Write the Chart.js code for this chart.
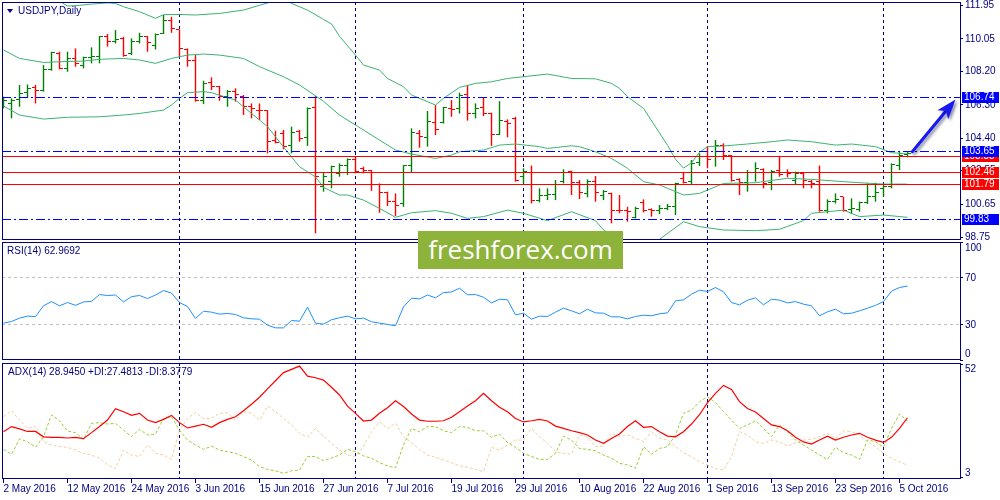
<!DOCTYPE html>
<html>
<head>
<meta charset="utf-8">
<script src="https://cdn.jsdelivr.net/npm/chart.js@4.4.1/dist/chart.umd.min.js"></script>
<style>
body { margin: 0; background: #fff; width: 1000px; height: 500px; overflow: hidden; position: relative; }
canvas { position: absolute; left: 0; }
.lbl { position: absolute; font: 10px "Liberation Sans", Arial, sans-serif; line-height: 12px; color: #000080; white-space: pre; }
.tri { position: absolute; left: 7px; top: 9px; width: 0; height: 0; border-left: 3px solid transparent; border-right: 3px solid transparent; border-top: 4px solid #000080; }
#wm { position: absolute; left: 418px; top: 231px; width: 205px; height: 38px; background: #8db33a; color: #fff; font: 26px "Open Sans", sans-serif; line-height: 37px; text-align: center; }
</style>
</head>
<body>
<canvas id="cMain" width="1000" height="241" style="top:0"></canvas>
<canvas id="cRsi" width="1000" height="130" style="top:236px"></canvas>
<canvas id="cAdx" width="1000" height="143" style="top:357px"></canvas>
<div class="tri"></div>
<div class="lbl" style="left:18px;top:5px">USDJPY,Daily</div>
<div class="lbl" style="left:7px;top:245px">RSI(14) 62.9692</div>
<div class="lbl" style="left:8px;top:366px">ADX(14) 28.9450 +DI:27.4813 -DI:8.3779</div>
<div id="wm">freshforex.com</div>
<script>
// bottom date labels, one every 8 daily bars
const tickDates = ['2 May 2016', '12 May 2016', '24 May 2016', '3 Jun 2016', '15 Jun 2016', '27 Jun 2016', '7 Jul 2016',
  '19 Jul 2016', '29 Jul 2016', '10 Aug 2016', '22 Aug 2016', '1 Sep 2016', '13 Sep 2016', '23 Sep 2016', '5 Oct 2016'];
const tickBars = [0, 8, 16, 24, 32, 40, 48, 56, 64, 72, 80, 88, 96, 104, 112];
const gridBars = [22, 44, 65, 88, 110];

// USDJPY daily bars, 2 May - 6 Oct 2016
const openP = [
  106.23, 106.38, 106.61, 106.99, 107.29, 107.10, 108.32, 109.23, 108.37, 108.94,
  108.56, 108.99, 109.04, 110.17, 109.89, 110.08, 109.23, 109.89, 110.17, 109.70,
  110.36, 111.08, 110.59, 109.45, 108.85, 106.53, 107.56, 107.33, 106.76, 107.05,
  106.76, 106.19, 106.00, 106.00, 104.26, 104.68, 103.96, 104.77, 104.45, 106.15,
  101.64, 101.93, 102.40, 102.87, 103.20, 102.69, 102.55, 101.74, 101.30, 100.79,
  100.66, 102.84, 104.68, 104.45, 105.28, 105.28, 106.10, 106.10, 106.89, 105.81,
  106.15, 105.81, 104.64, 105.34, 105.53, 102.25, 102.44, 100.88, 101.17, 101.21,
  101.93, 102.50, 101.87, 101.23, 101.93, 101.17, 101.26, 100.31, 100.28, 99.88,
  100.73, 100.35, 100.31, 100.41, 100.54, 102.12, 101.93, 103.01, 103.35, 103.35,
  104.01, 103.44, 102.06, 101.87, 102.44, 102.63, 101.87, 102.55, 102.44, 102.02,
  102.40, 101.93, 101.93, 100.31, 100.79, 101.07, 100.35, 100.35, 100.73, 101.07,
  101.55, 101.64, 102.87, 103.50];
const highP = [
  106.76, 106.67, 107.43, 107.46, 107.43, 108.56, 109.32, 109.32, 109.32, 109.51,
  109.04, 109.57, 110.21, 110.33, 110.55, 110.17, 110.08, 110.40, 110.21, 110.36,
  111.41, 111.31, 110.59, 109.51, 109.13, 107.67, 107.86, 107.37, 107.14, 107.24,
  106.86, 106.38, 106.38, 106.00, 104.83, 104.87, 105.06, 104.87, 106.15, 106.80,
  102.46, 102.84, 102.97, 103.25, 103.35, 102.78, 102.59, 101.83, 101.36, 101.26,
  102.87, 104.96, 104.87, 105.95, 106.29, 106.19, 106.57, 106.99, 107.43, 106.38,
  106.72, 105.85, 106.51, 105.47, 105.62, 102.69, 102.84, 101.55, 101.55, 102.02,
  102.63, 102.55, 102.02, 102.06, 102.25, 101.45, 101.30, 101.17, 100.50, 100.50,
  100.92, 100.41, 100.60, 100.66, 101.87, 102.44, 103.16, 103.54, 103.96, 104.30,
  104.11, 103.44, 102.12, 102.59, 103.03, 102.69, 102.59, 103.39, 102.63, 102.50,
  102.44, 102.02, 102.84, 100.92, 101.26, 101.07, 100.98, 100.79, 101.83, 101.87,
  101.74, 102.97, 103.63, 103.63];
const lowP = [
  106.10, 105.53, 106.19, 106.72, 106.38, 107.05, 108.24, 108.32, 108.18, 108.47,
  108.37, 108.66, 108.66, 109.61, 109.79, 109.04, 109.13, 109.79, 109.32, 109.45,
  110.33, 110.40, 109.04, 108.47, 106.48, 106.34, 107.14, 106.53, 106.19, 106.48,
  105.72, 105.53, 105.43, 103.54, 104.11, 103.77, 103.54, 104.20, 103.96, 98.99,
  101.36, 101.55, 102.21, 102.31, 102.40, 102.40, 101.41, 100.16, 100.54, 99.97,
  100.50, 102.46, 103.86, 103.92, 104.58, 105.24, 105.62, 105.81, 105.40, 105.53,
  105.66, 103.96, 104.58, 104.45, 101.93, 101.83, 100.69, 100.75, 100.88, 100.88,
  101.83, 101.17, 100.94, 101.04, 100.79, 100.88, 99.56, 100.13, 99.65, 99.84,
  100.18, 99.94, 100.09, 100.31, 100.03, 101.83, 101.74, 102.82, 102.69, 102.78,
  103.16, 101.93, 101.17, 101.36, 101.93, 101.55, 101.45, 102.21, 102.17, 101.74,
  101.55, 101.55, 100.22, 100.13, 100.69, 100.22, 100.09, 100.22, 100.66, 100.79,
  101.07, 101.55, 102.59, 103.31];
const closeP = [
  106.57, 106.57, 106.95, 107.24, 107.10, 108.32, 109.26, 108.37, 108.94, 108.66,
  108.99, 109.07, 110.17, 109.89, 110.02, 109.13, 109.89, 110.17, 109.83, 110.31,
  111.08, 110.65, 109.51, 108.85, 106.53, 107.52, 107.37, 106.76, 107.05, 106.86,
  106.19, 106.10, 105.97, 104.20, 104.15, 103.92, 104.71, 104.39, 106.10, 102.21,
  102.21, 102.78, 102.84, 103.20, 102.50, 102.55, 101.79, 101.30, 100.79, 100.60,
  102.84, 104.71, 104.49, 105.34, 104.87, 106.15, 106.04, 106.82, 105.81, 106.10,
  105.78, 104.64, 105.40, 105.24, 102.02, 102.50, 100.88, 101.17, 101.21, 101.74,
  102.44, 101.87, 101.30, 101.93, 101.30, 101.36, 100.31, 100.28, 100.22, 100.41,
  100.31, 100.26, 100.41, 100.54, 101.83, 101.87, 102.97, 103.35, 103.20, 104.01,
  103.44, 102.02, 101.87, 102.44, 102.69, 101.83, 102.50, 102.36, 102.40, 102.40,
  102.02, 101.83, 100.31, 100.79, 100.92, 100.31, 100.41, 100.73, 101.07, 101.30,
  101.64, 102.93, 103.44, 103.54];

// Bollinger bands (bar index, price)
const bbUpIdx = [0, 4, 7, 8, 9, 11, 13, 14, 15, 17, 19, 20, 22, 24, 27, 30, 33, 35, 36, 38, 40, 41, 42, 44, 45,
  47, 48, 50, 51, 54, 55, 57, 59, 61, 63, 65, 68, 71, 74, 76, 77, 78, 80, 82, 83, 84, 85, 86, 87, 88,
  90, 93, 96, 98, 101, 104, 106, 109, 111, 113];
const bbUp = [113.0, 112.6, 112.2, 111.92, 111.94, 112.03, 112.1, 112.07, 111.88, 111.6, 111.22, 111.43, 111.44,
  111.41, 111.5, 111.69, 112.1, 112.35, 112.07, 111.69, 111.16, 110.9, 110.2, 109.13, 108.56, 108.28, 107.8,
  107.33, 106.86, 106.29, 106.67, 107.29, 107.52, 107.61, 107.8, 107.9, 108.05, 107.8, 107.78, 107.52, 107.24,
  106.76, 106.1, 104.7, 104.0, 103.2, 102.7, 103.0, 103.6, 103.92, 103.96, 104.07, 104.2, 104.3, 104.2,
  104.01, 104.07, 103.92, 103.58, 103.5];
const bbMidIdx = [0, 2, 5, 7, 10, 12, 15, 17, 19, 21, 23, 25, 27, 30, 32, 35, 37, 40, 42, 44, 46, 49, 51, 54, 56,
  57, 60, 62, 64, 67, 68, 71, 72, 74, 76, 78, 80, 82, 83, 85, 87, 90, 94, 98, 101, 105, 107, 110, 113];
const bbMid = [109.42, 108.94, 108.71, 108.75, 108.79, 108.89, 108.94, 108.85, 108.66, 108.94, 109.13, 109.19,
  109.13, 108.94, 108.47, 107.9, 107.43, 106.5, 105.72, 105.15, 104.58, 103.73, 103.5, 103.25, 103.44, 103.63,
  103.73, 104.01, 104.07, 103.92, 103.82, 103.97, 103.92, 103.63, 103.25, 102.69, 101.93, 101.74, 101.55,
  101.17, 101.26, 101.83, 101.87, 102.12, 102.06, 101.93, 101.87, 101.79, 101.79];
const bbLowIdx = [0, 2, 5, 8, 12, 15, 17, 20, 21, 22, 23, 25, 26, 29, 31, 33, 35, 37, 39, 40, 42, 43, 45, 47, 49,
  51, 54, 56, 58, 60, 63, 65, 68, 71, 74, 75, 77, 79, 82, 85, 87, 90, 94, 97, 100, 101, 105, 107, 110, 113];
const bbLow = [106.23, 105.72, 105.49, 105.59, 105.62, 105.72, 105.81, 106.0, 106.29, 106.67, 106.99, 107.05,
  106.99, 106.57, 105.81, 105.06, 103.9, 102.78, 102.2, 101.6, 101.17, 101.17, 100.88, 100.41, 99.9, 100.16,
  100.28, 100.13, 99.84, 99.94, 100.31, 100.13, 99.71, 100.22, 99.71, 99.18, 98.61, 98.2, 98.65, 99.65, 99.37,
  99.18, 99.14, 99.22, 99.71, 100.13, 100.31, 99.94, 100.03, 99.9];

// horizontal levels and the drawn arrow (bar index, price)
const levelBlue = [106.74, 103.65, 99.83];
const levelRed = [103.38, 102.46, 101.79];
const arrowFrom = [113.6, 103.63];
const arrowTo = [119.0, 106.61];
const priceTicks = [98.75, 100.65, 102.55, 104.40, 106.30, 108.20, 110.05, 111.95];

const rsi = [
  31.4, 32.8, 35.7, 37.4, 37.0, 46.2, 49.8, 46.2, 49.0, 46.6,
  49.5, 50.0, 55.8, 55.0, 55.4, 49.5, 54.0, 55.0, 52.4, 55.4,
  59.2, 57.0, 49.0, 45.6, 35.4, 41.6, 40.8, 39.1, 39.7, 38.8,
  36.0, 35.1, 34.8, 29.7, 27.4, 27.4, 33.7, 33.1, 45.0, 31.4,
  30.6, 34.3, 36.0, 37.4, 35.1, 35.7, 32.6, 31.4, 30.3, 29.2,
  45.3, 52.7, 52.1, 55.4, 53.0, 57.5, 58.0, 61.2, 55.6, 55.8,
  53.5, 48.7, 51.8, 51.3, 38.5, 39.9, 34.8, 37.4, 37.1, 40.8,
  44.2, 41.9, 39.4, 43.3, 40.2, 39.9, 36.8, 36.8, 35.1, 37.1,
  38.2, 37.7, 39.4, 40.2, 50.4, 51.3, 56.1, 59.5, 58.4, 61.8,
  58.1, 49.0, 47.0, 51.0, 53.0, 47.0, 51.8, 51.0, 48.7, 49.8,
  47.6, 46.2, 37.7, 41.1, 43.3, 39.4, 39.9, 41.9, 44.2, 46.6,
  49.8, 58.7, 61.8, 62.97];
const rsiTicks = [0, 30, 70, 100];

const adx = [
  22.9, 25.1, 24.1, 23.0, 23.0, 20.7, 20.5, 20.5, 20.2, 20.5,
  19.9, 22.5, 25.1, 27.9, 32.8, 31.5, 29.9, 30.8, 27.9, 26.8,
  28.2, 29.9, 26.8, 24.5, 25.3, 26.1, 24.8, 26.8, 28.2, 29.3,
  31.9, 34.7, 37.7, 41.3, 44.8, 48.3, 49.7, 51.1, 46.8, 46.1,
  45.1, 42.0, 38.7, 33.9, 30.8, 27.5, 27.9, 30.8, 33.2, 36.2,
  33.7, 30.5, 27.9, 27.4, 27.4, 27.6, 29.1, 31.5, 33.9, 36.2,
  39.4, 36.2, 33.4, 31.5, 28.6, 27.1, 27.6, 28.2, 27.5, 25.3,
  24.3, 23.3, 22.5, 21.5, 19.3, 17.9, 20.0, 21.9, 25.1, 27.6,
  24.8, 25.1, 22.9, 21.0, 20.7, 22.9, 26.2, 30.2, 35.4, 39.4,
  42.8, 41.1, 35.8, 32.9, 31.4, 28.6, 25.8, 25.1, 23.3, 20.5,
  18.5, 17.6, 19.3, 21.0, 19.3, 20.5, 21.5, 22.2, 20.5, 19.3,
  18.3, 20.5, 24.3, 28.9];
const plusDI = [
  15.3, 13.2, 19.8, 18.6, 16.2, 20.8, 30.1, 27.6, 23.2, 22.5,
  19.6, 26.5, 26.8, 26.2, 26.5, 23.6, 20.8, 23.9, 21.5, 21.9,
  28.6, 29.3, 23.6, 19.3, 17.2, 15.3, 16.7, 15.0, 14.3, 13.6,
  12.2, 10.7, 7.9, 6.7, 6.1, 5.0, 6.1, 6.4, 12.2, 12.2,
  10.4, 11.6, 12.9, 15.3, 14.3, 12.5, 11.5, 9.6, 8.2, 7.4,
  17.2, 24.3, 22.9, 25.1, 25.1, 23.3, 22.5, 25.1, 24.8, 23.3,
  23.3, 20.5, 21.9, 18.2, 16.2, 13.6, 12.2, 11.0, 11.0, 13.6,
  21.0, 19.3, 15.7, 15.3, 14.7, 12.9, 11.5, 9.3, 8.6, 7.2,
  16.5, 13.2, 15.7, 16.5, 21.5, 30.8, 32.2, 35.8, 37.9, 35.4,
  31.5, 27.9, 24.3, 25.8, 27.6, 24.3, 20.8, 25.8, 22.9, 19.3,
  17.2, 15.0, 12.9, 11.0, 16.2, 13.9, 12.9, 11.0, 19.3, 18.6,
  16.2, 24.3, 30.5, 27.5];
const minusDI = [
  29.4, 31.9, 27.9, 24.3, 25.1, 18.6, 17.2, 16.5, 16.2, 15.0,
  13.6, 12.9, 11.5, 8.6, 7.1, 15.0, 12.9, 12.2, 17.2, 13.6,
  12.9, 11.0, 23.6, 28.6, 31.1, 28.6, 28.6, 30.8, 31.1, 27.9,
  31.5, 30.8, 27.9, 33.9, 31.5, 28.6, 25.8, 22.2, 20.5, 24.3,
  20.8, 17.9, 15.0, 12.9, 12.2, 16.7, 22.9, 27.2, 24.3, 26.5,
  20.8, 18.2, 15.3, 12.9, 11.9, 10.7, 9.6, 8.2, 7.6, 6.7,
  5.7, 16.2, 15.0, 17.2, 19.3, 19.3, 24.3, 20.8, 17.9, 14.3,
  13.6, 13.3, 21.5, 20.5, 16.5, 16.7, 22.2, 20.8, 21.5, 20.0,
  18.6, 22.9, 20.0, 19.3, 16.5, 13.9, 12.2, 10.0, 8.6, 7.1,
  6.4, 12.2, 22.9, 21.5, 18.6, 17.9, 19.3, 18.6, 16.7, 18.2,
  19.3, 19.6, 20.8, 22.2, 20.0, 23.3, 22.9, 21.5, 18.6, 16.5,
  13.6, 11.45, 10.0, 8.38];
const adxTicks = [3, 52];

const NAVY = '#000080', BULL = '#008000', BEAR = '#ff0000', BLUE = '#0000ff';
const FONT = { family: '"Liberation Sans", Arial, sans-serif', size: 10 };
const X_MIN = -0.1875, X_MAX = 119.5625;

const series = v => v.map((y, i) => ({ x: i, y }));
const pairs = (xs, ys) => xs.map((x, i) => ({ x, y: ys[i] }));

function gridAxis() {
  return {
    type: 'linear', position: 'bottom', min: X_MIN, max: X_MAX, bounds: 'data', offset: false,
    afterBuildTicks: s => { s.ticks = gridBars.map(v => ({ value: v })); },
    afterFit: s => { s.height = 0; s.paddingLeft = 0; s.paddingRight = 0; },
    ticks: { display: false },
    grid: { color: NAVY, drawTicks: false, offset: false },
    border: { display: false, dash: [3, 3] }
  };
}

function valueAxis(min, max, ticks, fmt, grid, dash) {
  return {
    type: 'linear', position: 'right', min, max, bounds: 'data',
    afterBuildTicks: s => { s.ticks = ticks.map(v => ({ value: v })); },
    afterFit: s => { s.width = 40; s.paddingTop = 0; s.paddingBottom = 0; },
    ticks: { color: NAVY, font: FONT, padding: 2, autoSkip: false, callback: fmt },
    grid: Object.assign({ drawOnChartArea: false, tickLength: 3, tickColor: NAVY, tickBorderDash: [] }, grid || {}),
    border: { display: false, dash: dash || [] }
  };
}

const frame = {
  id: 'frame',
  afterDraw(c) {
    const a = c.chartArea, g = c.ctx;
    g.save();
    g.strokeStyle = NAVY; g.lineWidth = 1; g.setLineDash([]);
    g.strokeRect(a.left + 0.5, a.top + 0.5, a.right - a.left, a.bottom - a.top - 1);
    g.restore();
  }
};

// keep the end labels of a sub-window inside it, like the terminal does
const edgeLabels = {
  id: 'edgeLabels',
  beforeDraw(c) {
    const a = c.chartArea;
    c.scales.y.getLabelItems().forEach(it => {
      const t = it.options.translation;
      t[1] = Math.min(Math.max(t[1], a.top + 6), a.bottom - 6);
    });
  }
};

const ohlcTicks = {
  id: 'ohlcTicks',
  afterDatasetsDraw(c) {
    const xs = c.scales.x, ys = c.scales.y, a = c.chartArea, g = c.ctx;
    g.save();
    g.beginPath(); g.rect(a.left, a.top, a.right - a.left, a.bottom - a.top); g.clip();
    openP.forEach((o, i) => {
      const px = Math.floor(xs.getPixelForValue(i));
      g.fillStyle = closeP[i] > o ? BULL : BEAR;
      g.fillRect(px - 3, Math.round(ys.getPixelForValue(o) - 0.5), 3, 1);
      g.fillRect(px + 1, Math.round(ys.getPixelForValue(closeP[i]) - 0.5), 3, 1);
    });
    g.restore();
  }
};

const levels = {
  id: 'levels',
  afterDatasetsDraw(c) {
    const ys = c.scales.y, a = c.chartArea, g = c.ctx;
    g.save();
    g.lineWidth = 1;
    const line = (v, color, dash) => {
      const y = Math.round(ys.getPixelForValue(v)) + 0.5;
      g.strokeStyle = color; g.setLineDash(dash);
      g.beginPath(); g.moveTo(a.left, y); g.lineTo(a.right, y); g.stroke();
    };
    levelRed.forEach(v => line(v, BEAR, []));
    levelBlue.forEach(v => line(v, BLUE, [9, 3, 2, 3]));
    g.restore();
  },
  afterDraw(c) {
    const ys = c.scales.y, a = c.chartArea, g = c.ctx;
    g.save();
    g.font = '10px "Liberation Sans", Arial, sans-serif';
    g.textBaseline = 'middle'; g.textAlign = 'left';
    const tag = (v, color) => {
      const y = Math.round(ys.getPixelForValue(v));
      g.fillStyle = color; g.fillRect(a.right + 2, y - 5, 37, 11);
      g.fillStyle = '#fff'; g.fillText(v.toFixed(2), a.right + 4, y + 0.5);
    };
    levelRed.forEach(v => tag(v, BEAR));
    levelBlue.forEach(v => tag(v, BLUE));
    g.restore();
  }
};

const arrow = {
  id: 'arrow',
  afterDraw(c) {
    const xs = c.scales.x, ys = c.scales.y, g = c.ctx;
    const x0 = xs.getPixelForValue(arrowFrom[0]), y0 = ys.getPixelForValue(arrowFrom[1]);
    const x1 = xs.getPixelForValue(arrowTo[0]), y1 = ys.getPixelForValue(arrowTo[1]);
    const ang = Math.atan2(y1 - y0, x1 - x0), cos = Math.cos(ang), sin = Math.sin(ang);
    const L = 20, W = 7;
    const bx = x1 - L * cos, by = y1 - L * sin;
    g.save();
    g.shadowColor = 'rgba(0,0,60,0.45)'; g.shadowBlur = 3; g.shadowOffsetX = 2; g.shadowOffsetY = 2;
    g.strokeStyle = g.fillStyle = '#1818f0';
    g.lineWidth = 3; g.lineCap = 'round';
    g.beginPath(); g.moveTo(x0, y0); g.lineTo(bx + 4 * cos, by + 4 * sin); g.stroke();
    g.beginPath();
    g.moveTo(x1, y1);
    g.lineTo(bx + W * sin, by - W * cos);
    g.lineTo(bx + 5 * cos, by + 5 * sin);
    g.lineTo(bx - W * sin, by + W * cos);
    g.closePath(); g.fill();
    g.restore();
  }
};

const baseOptions = (padding, scales) => ({
  responsive: false, animation: false, devicePixelRatio: 1, events: [],
  layout: { padding },
  plugins: { legend: { display: false }, tooltip: { enabled: false } },
  scales
});

const line = (data, color, extra) => Object.assign({
  type: 'line', data, borderColor: color, borderWidth: 1, pointRadius: 0, tension: 0, fill: false
}, extra || {});

// price window
new Chart(document.getElementById('cMain'), {
  type: 'line',
  data: {
    datasets: [
      line(pairs(bbUpIdx, bbUp), '#3cb371', { order: 1 }),
      line(pairs(bbMidIdx, bbMid), '#3cb371', { order: 1 }),
      line(pairs(bbLowIdx, bbLow), '#3cb371', { order: 1 }),
      {
        type: 'bar', order: 2,
        data: openP.map((o, i) => ({ x: i, y: [lowP[i], highP[i]] })),
        backgroundColor: openP.map((o, i) => closeP[i] > o ? BULL : BEAR),
        barThickness: 1.4, inflateAmount: 0, borderWidth: 0, grouped: false
      }
    ]
  },
  options: baseOptions({ left: 2, right: 0, top: 2, bottom: 1 }, {
    x: gridAxis(),
    y: valueAxis(98.61, 112.15, priceTicks, v => v.toFixed(2))
  }),
  plugins: [ohlcTicks, levels, frame, arrow]
});

// RSI window
new Chart(document.getElementById('cRsi'), {
  type: 'line',
  data: { datasets: [line(series(rsi), '#1e90ff')] },
  options: baseOptions({ left: 2, right: 0, top: 6, bottom: 6 }, {
    x: gridAxis(),
    y: valueAxis(0, 100.6, rsiTicks, v => String(v), {
      drawOnChartArea: true,
      color: ctx => (ctx.tick && (ctx.tick.value === 30 || ctx.tick.value === 70)) ? '#c0c0c0' : 'rgba(0,0,0,0)'
    }, [3, 3])
  }),
  plugins: [edgeLabels, frame]
});

// ADX window with the date axis
new Chart(document.getElementById('cAdx'), {
  type: 'line',
  data: {
    datasets: [
      line(series(adx), '#ff0000', { order: 0, borderWidth: 1.2 }),
      line(series(plusDI), '#9acd32', { order: 1, borderDash: [3, 2] }),
      line(series(minusDI), '#f2cf9e', { order: 2, borderDash: [3, 2] })
    ]
  },
  options: baseOptions({ left: 2, right: 0, top: 6, bottom: 0 }, {
    x: gridAxis(),
    x2: {
      type: 'linear', position: 'bottom', min: X_MIN, max: X_MAX, bounds: 'data', offset: false,
      afterBuildTicks: s => { s.ticks = tickBars.map(v => ({ value: v })); },
      afterFit: s => { s.height = 21; s.paddingLeft = 0; s.paddingRight = 0; },
      ticks: { color: NAVY, font: FONT, align: 'start', maxRotation: 0, autoSkip: false, padding: 0,
        callback: (v, i) => tickDates[i] },
      grid: { drawOnChartArea: false, drawTicks: true, tickLength: 4, color: NAVY },
      border: { display: false }
    },
    y: valueAxis(2.57, 52.43, adxTicks, v => String(v))
  }),
  plugins: [edgeLabels, frame]
});
</script>
</body>
</html>
